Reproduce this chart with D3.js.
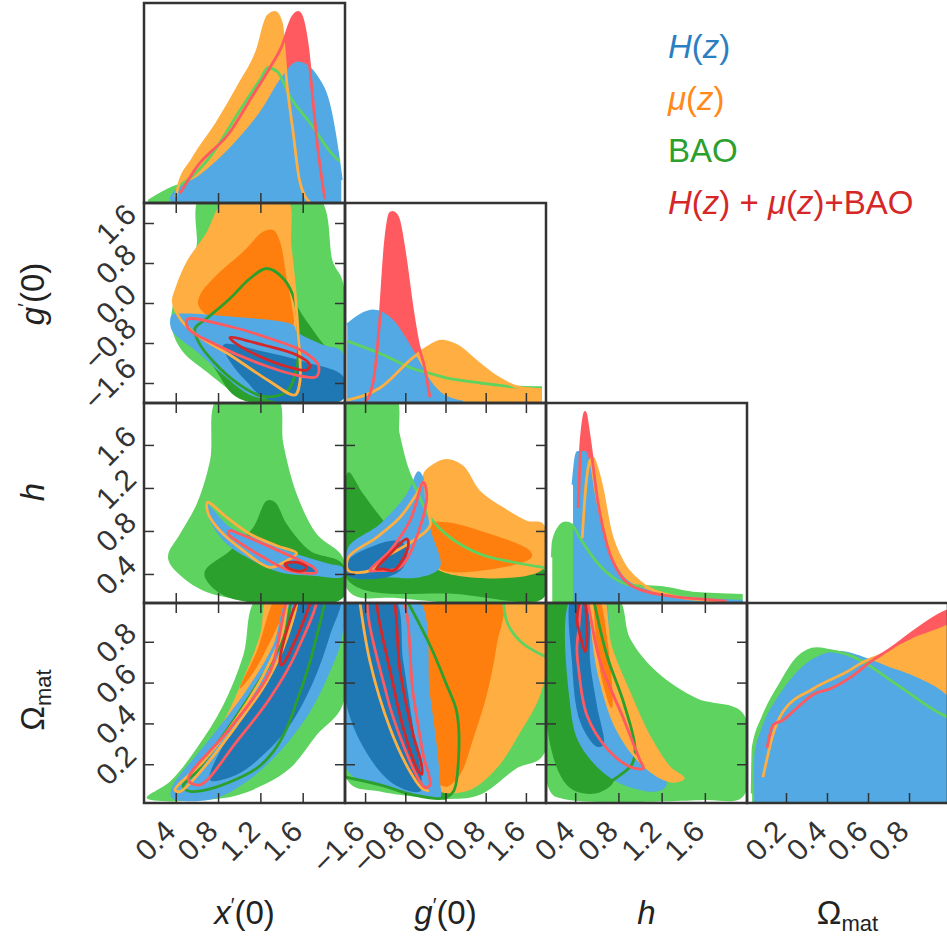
<!DOCTYPE html>
<html>
<head>
<meta charset="utf-8">
<title>Corner plot</title>
<script src="https://cdn.jsdelivr.net/npm/d3@7"></script>
<style>
  body { margin: 0; background: #fff; }
  svg { display: block; font-family: "Liberation Sans", Arial, sans-serif; }
</style>
</head>
<body>
<div id="chart"></div>
<script>
// ---- parameters (x'(0), g'(0), h, Omega_mat) ----
var paramDomains = [[0.1, 2.0], [-2, 2], [0.13, 1.99], [0.01, 0.99]];
var paramTicks = [[0.4, 0.8, 1.2, 1.6], [-1.6, -0.8, 0.0, 0.8, 1.6], [0.4, 0.8, 1.2, 1.6], [0.2, 0.4, 0.6, 0.8]];
var seriesNames = ["H(z)", "μ(z)", "BAO", "H(z)+μ(z)+BAO"];

// ---- 1D marginals [value, relative density] ----
var margXpHz  = [[0.35,0.02],[0.37,0.04],[0.63,0.14],[0.91,0.28],[1.225,0.49],[1.414,0.66],[1.556,0.735],[1.735,0.66],[1.858,0.49],[1.953,0.17],[1.965,0.12]];
var margXpMu  = [[0.40,0.03],[0.42,0.08],[0.56,0.23],[0.79,0.42],[1.01,0.63],[1.17,0.80],[1.27,0.98],[1.34,1.0],[1.40,0.94],[1.45,0.63],[1.51,0.37],[1.57,0.12],[1.67,0.0]];
var margXpBao = [[0.14,0.01],[0.37,0.08],[0.44,0.095],[0.72,0.24],[1.01,0.49],[1.20,0.65],[1.27,0.71],[1.36,0.69],[1.48,0.56],[1.67,0.42],[1.89,0.25],[1.95,0.22]];
var margXpAll = [[0.44,0.05],[0.60,0.19],[0.91,0.37],[1.10,0.54],[1.29,0.71],[1.40,0.82],[1.51,0.98],[1.56,1.0],[1.60,0.96],[1.65,0.80],[1.69,0.58],[1.74,0.30],[1.81,0.02]];

var margGpHz  = [[-1.955,0.41],[-1.70,0.46],[-1.44,0.483],[-1.04,0.425],[-0.77,0.32],[-0.51,0.20],[-0.31,0.11],[-0.05,0.04],[0.35,0.005]];
var margGpMu  = [[-1.955,0.015],[-1.30,0.08],[-0.64,0.24],[-0.37,0.29],[-0.08,0.325],[0.23,0.30],[0.63,0.215],[1.03,0.135],[1.42,0.085],[1.92,0.07]];
var margGpBao = [[-1.955,0.325],[-1.30,0.26],[-0.64,0.18],[-0.37,0.16],[0.04,0.13],[0.70,0.105],[1.35,0.085],[1.92,0.08]];
var margGpAll = [[-1.60,0.005],[-1.44,0.11],[-1.30,0.46],[-1.20,0.83],[-1.10,0.995],[-1.05,1.0],[-0.945,0.97],[-0.81,0.78],[-0.67,0.51],[-0.55,0.32],[-0.41,0.18],[-0.31,0.03]];

var margHHz  = [[0.38,0.62],[0.42,0.79],[0.49,0.79],[0.52,0.74],[0.566,0.58],[0.63,0.41],[0.72,0.25],[0.84,0.135],[1.03,0.07],[1.37,0.03],[1.95,0.01]];
var margHMu  = [[0.465,0.34],[0.50,0.62],[0.54,0.75],[0.566,0.76],[0.60,0.71],[0.65,0.60],[0.72,0.39],[0.84,0.215],[1.0,0.11],[1.28,0.04],[1.58,0.016],[1.75,0.005]];
var margHBao = [[0.188,0.24],[0.197,0.32],[0.243,0.39],[0.31,0.42],[0.37,0.41],[0.446,0.34],[0.60,0.215],[0.75,0.135],[0.91,0.094],[1.21,0.08],[1.52,0.05],[1.95,0.04]];
var margHAll = [[0.428,0.50],[0.446,0.77],[0.474,0.95],[0.49,1.0],[0.52,0.91],[0.557,0.76],[0.60,0.57],[0.695,0.305],[0.815,0.15],[1.0,0.07],[1.37,0.03],[1.58,0.02],[1.8,0.01]];

var margOmHz  = [[0.045,0.10],[0.05,0.24],[0.088,0.39],[0.17,0.56],[0.255,0.68],[0.35,0.76],[0.465,0.79],[0.577,0.76],[0.695,0.71],[0.82,0.66],[0.97,0.57],[0.99,0.55]];
var margOmMu  = [[0.088,0.135],[0.137,0.36],[0.186,0.48],[0.333,0.60],[0.50,0.69],[0.577,0.74],[0.695,0.79],[0.822,0.86],[0.968,0.92],[0.99,0.93]];
var margOmBao = [[0.035,0.05],[0.04,0.29],[0.088,0.45],[0.17,0.62],[0.255,0.76],[0.35,0.81],[0.416,0.80],[0.50,0.78],[0.577,0.74],[0.743,0.62],[0.97,0.46],[0.99,0.45]];
var margOmAll = [[0.108,0.29],[0.137,0.41],[0.186,0.435],[0.254,0.50],[0.333,0.57],[0.416,0.60],[0.528,0.67],[0.61,0.74],[0.71,0.81],[0.822,0.90],[0.968,1.0],[0.99,1.01]];

// ---- 2D contours [x, y] ----
// x'(0) vs g'(0)
var xg_bao95 = [[0.64,2.16],[0.598,1.16],[0.563,0.82],[0.44,0.30],[0.374,-0.04],[0.362,-0.50],[0.469,-0.98],[0.695,-1.38],[0.884,-1.70],[1.036,-1.92],[1.98,-1.92],[1.98,0.42],[1.886,0.82],[1.735,2.16]];
var xg_bao68 = [[0.613,-0.64],[0.787,-1.37],[1.007,-1.92],[1.98,-1.92],[1.98,-1.37],[1.73,-0.64],[1.543,-0.04],[1.449,0.56],[1.29,0.69],[1.007,0.29],[0.693,-0.24]];
var xg_mu95  = [[0.897,2.1],[1.433,2.1],[1.48,1.16],[1.527,0.23],[1.558,-0.64],[1.574,-1.57],[1.527,-1.84],[1.29,-1.57],[0.913,-1.04],[0.598,-0.64],[0.44,-0.31],[0.377,0.03],[0.409,0.29],[0.519,0.83],[0.693,1.36]];
var xg_mu68  = [[0.629,0.16],[0.787,0.56],[1.039,1.03],[1.228,1.43],[1.322,1.46],[1.385,1.23],[1.449,0.49],[1.496,-0.04],[1.511,-0.44],[1.449,-0.51],[0.913,-0.37],[0.693,-0.24],[0.613,-0.04]];
var xg_hz95  = [[0.456,-0.21],[0.913,-0.27],[1.511,-0.44],[1.543,-0.57],[1.795,-0.84],[1.969,-0.97],[1.978,-1.92],[1.29,-1.92],[1.102,-1.84],[0.85,-1.44],[0.598,-0.97],[0.362,-0.54],[0.362,-0.24]];
var xg_hz68  = [[0.85,-0.84],[1.228,-0.97],[1.606,-1.17],[1.984,-1.47],[1.984,-1.92],[1.26,-1.92],[1.07,-1.57],[0.913,-1.17]];
var xg_baoLine = [[1.26,0.69],[1.417,0.49],[1.527,0.03],[1.558,-0.64],[1.543,-1.31],[1.449,-1.77],[1.228,-1.87],[1.007,-1.64],[0.755,-1.17],[0.613,-0.77],[0.582,-0.51],[0.693,-0.31],[0.913,0.09],[1.102,0.49]];
var xg_all95 = [[0.509,-0.33],[0.913,-0.47],[1.29,-0.71],[1.606,-0.97],[1.748,-1.24],[1.732,-1.47],[1.606,-1.47],[1.228,-1.24],[0.787,-0.84],[0.519,-0.51]];
var xg_all68 = [[0.913,-0.69],[1.228,-0.84],[1.543,-1.04],[1.669,-1.24],[1.638,-1.34],[1.449,-1.27],[1.165,-1.04],[0.944,-0.77]];

// x'(0) vs h
var xh_bao95 = [[0.802,2.05],[1.354,2.05],[1.417,1.61],[1.543,1.144],[1.732,0.772],[1.978,0.555],[1.978,0.177],[0.913,0.177],[0.598,0.276],[0.346,0.493],[0.330,0.586],[0.44,0.772],[0.598,1.051],[0.724,1.454]];
var xh_bao68 = [[1.26,1.082],[1.338,1.067],[1.449,0.865],[1.669,0.617],[1.978,0.493],[1.978,0.177],[0.913,0.177],[0.693,0.338],[0.676,0.431],[0.913,0.617],[1.133,0.834]];
var xh_hz95  = [[0.693,1.051],[0.913,0.834],[1.228,0.710],[1.543,0.586],[1.858,0.493],[1.978,0.462],[1.978,0.375],[1.70,0.384],[1.385,0.416],[1.07,0.555],[0.85,0.710],[0.708,0.927]];
var xh_hz68  = [[1.417,0.509],[1.606,0.509],[1.732,0.431],[1.669,0.400],[1.449,0.446]];
var xh_muLine = [[0.699,1.067],[0.882,0.927],[1.102,0.772],[1.354,0.663],[1.543,0.593],[1.449,0.524],[1.29,0.462],[1.039,0.617],[0.818,0.803],[0.708,0.958]];
var xh_all95 = [[0.913,0.803],[1.007,0.772],[1.228,0.679],[1.543,0.540],[1.70,0.462],[1.732,0.416],[1.48,0.431],[1.228,0.555],[0.976,0.710],[0.897,0.772]];
var xh_all68 = [[1.433,0.493],[1.543,0.509],[1.638,0.462],[1.606,0.431],[1.48,0.446]];

// g'(0) vs h
var gh_bao95 = [[-1.934,2.05],[-1.005,2.05],[-0.905,1.609],[-0.573,1.207],[-0.109,0.958],[0.687,0.710],[1.946,0.555],[1.946,0.177],[-0.971,0.177],[-1.934,0.245]];
var gh_bao68 = [[-1.934,1.346],[-1.636,1.144],[-1.104,0.834],[-0.442,0.617],[0.354,0.493],[1.946,0.447],[1.946,0.177],[0.223,0.214],[-1.934,0.338]];
var gh_mu95  = [[-0.442,1.33],[-0.243,1.423],[0.024,1.47],[0.354,1.407],[0.687,1.175],[1.15,1.02],[1.616,0.896],[1.946,0.865],[1.946,0.447],[-0.175,0.447],[-0.308,0.679],[-0.408,1.051]];
var gh_mu68  = [[-0.308,0.865],[0.024,0.881],[0.687,0.803],[1.682,0.617],[1.716,0.555],[1.15,0.462],[-0.109,0.447],[-0.243,0.648]];
var gh_hz95  = [[-1.934,0.648],[-1.303,0.865],[-0.772,1.144],[-0.541,1.355],[-0.442,1.30],[-0.308,0.834],[-0.109,0.462],[-0.507,0.369],[-1.17,0.369],[-1.934,0.384]];
var gh_hz68  = [[-1.934,0.524],[-1.502,0.648],[-0.971,0.71],[-0.772,0.648],[-0.839,0.462],[-1.17,0.369],[-1.934,0.384]];
var gh_baoLine = [[-0.971,1.772],[-0.772,1.393],[-0.573,1.175],[-0.308,0.927],[0.09,0.741],[0.687,0.586],[1.35,0.509],[1.946,0.462]];
var gh_muLine = [[-1.934,0.555],[-1.369,0.741],[-0.905,0.927],[-0.573,1.144],[-0.422,1.262],[-0.374,1.051],[-0.308,0.849],[-0.641,0.710],[-1.303,0.524],[-1.502,0.431],[-1.934,0.431]];
var gh_all95 = [[-1.502,0.431],[-1.104,0.617],[-0.706,0.896],[-0.442,1.253],[-0.374,1.144],[-0.507,0.834],[-0.905,0.462],[-1.369,0.431]];
var gh_all68 = [[-1.369,0.447],[-1.104,0.586],[-0.772,0.726],[-0.74,0.663],[-0.905,0.493],[-1.039,0.431],[-1.237,0.447]];

// x'(0) vs Omega_mat
var xo_bao95 = [[0.126,0.034],[0.346,0.115],[0.598,0.278],[0.85,0.49],[1.039,0.734],[1.18,1.02],[1.984,1.02],[1.978,0.49],[1.732,0.343],[1.48,0.18],[1.165,0.083],[0.85,0.034]];
var xo_mu95  = [[0.377,0.083],[0.598,0.213],[0.85,0.408],[1.039,0.621],[1.196,0.832],[1.27,1.02],[1.449,1.02],[1.354,0.816],[1.196,0.604],[1.007,0.425],[0.755,0.245],[0.504,0.115]];
var xo_mu68  = [[1.354,1.02],[1.449,1.02],[1.228,0.734],[1.07,0.604],[1.007,0.572],[1.165,0.751]];
var xo_hz95  = [[0.362,0.083],[0.362,0.034],[0.755,0.030],[1.07,0.115],[1.385,0.262],[1.669,0.457],[1.858,0.653],[1.969,0.816],[1.969,1.02],[1.48,1.02],[1.322,0.783],[1.102,0.588],[0.85,0.408],[0.598,0.246],[0.44,0.148]];
var xo_hz68  = [[0.724,0.123],[0.976,0.148],[1.228,0.246],[1.48,0.392],[1.70,0.604],[1.858,0.832],[1.953,1.02],[1.606,1.02],[1.449,0.816],[1.26,0.621],[1.039,0.441],[0.85,0.294]];
var xo_baoLine = [[1.511,1.1],[1.417,0.816],[1.165,0.588],[0.85,0.343],[0.598,0.164],[0.471,0.095],[0.519,0.069],[0.724,0.079],[1.165,0.18],[1.322,0.262],[1.449,0.376],[1.543,0.506],[1.669,0.702],[1.858,1.1]];
var xo_muLine = [[0.393,0.074],[0.66,0.213],[0.976,0.425],[1.228,0.637],[1.401,0.832],[1.48,1.02],[1.543,1.02],[1.449,0.816],[1.26,0.604],[0.976,0.392],[0.66,0.18],[0.44,0.066]];
var xo_all95 = [[0.519,0.123],[0.913,0.376],[1.29,0.653],[1.511,1.05],[1.732,1.05],[1.543,0.751],[1.29,0.523],[0.976,0.311],[0.629,0.099]];
var xo_all68 = [[1.385,0.702],[1.606,1.05],[1.685,1.05],[1.48,0.751],[1.401,0.686]];

// g'(0) vs Omega_mat
var go_bao95 = [[-1.934,1.02],[1.946,1.02],[1.946,0.245],[1.417,0.18],[0.687,0.05],[0.09,0.03],[-1.303,0.066],[-1.934,0.115]];
var go_bao68 = [[-1.95,0.27],[-1.3,0.15],[-0.3,0.05],[0.03,0.03],[0.0,0.3],[-0.9,0.5],[-1.95,0.6]];
var go_mu95  = [[-0.573,1.02],[1.946,1.02],[1.946,0.588],[1.417,0.327],[1.019,0.18],[0.488,0.074],[-0.109,0.066],[-0.175,0.115],[-0.374,0.457],[-0.507,0.783]];
var go_mu68  = [[-0.573,1.02],[1.119,1.02],[1.019,0.783],[0.82,0.539],[0.554,0.327],[0.289,0.148],[0.024,0.09],[-0.175,0.115],[-0.374,0.457],[-0.507,0.783]];
var go_hz95  = [[-1.934,1.02],[-0.573,1.02],[-0.308,0.539],[-0.175,0.294],[-0.109,0.115],[-0.109,0.034],[-0.641,0.05],[-1.303,0.099],[-1.934,0.164]];
var go_hz68  = [[-1.934,1.02],[-1.039,1.02],[-0.84,0.702],[-0.641,0.376],[-0.474,0.115],[-0.507,0.066],[-1.104,0.115],[-1.934,0.457]];
var go_baoLine = [[-0.872,1.05],[-0.308,0.783],[0.024,0.588],[0.223,0.457],[0.256,0.213],[0.156,0.066],[-0.043,0.034],[-0.641,0.05],[-1.303,0.099],[-2.05,0.14]];
var go_baoLine2 = [[1.15,1.05],[1.22,0.9],[1.5,0.8],[1.96,0.73]];
var go_muLine = [[-1.735,1.05],[-1.502,0.702],[-1.104,0.376],[-0.706,0.164],[-0.474,0.083],[-0.35,0.07]];
var go_all95 = [[-1.502,1.05],[-1.17,0.539],[-0.84,0.294],[-0.507,0.115],[-0.40,0.085],[-0.308,0.099],[-0.442,0.245],[-0.641,0.539],[-0.939,1.05]];
var go_all68 = [[-1.337,1.05],[-1.05,0.6],[-0.75,0.3],[-0.55,0.17],[-0.47,0.15],[-0.48,0.2],[-0.65,0.35],[-0.9,0.65],[-1.104,1.05]];

// h vs Omega_mat
var ho_bao95 = [[0.169,1.02],[0.785,1.02],[0.908,0.816],[1.154,0.653],[1.524,0.523],[1.954,0.449],[1.954,0.042],[1.585,0.025],[0.292,0.03],[0.169,0.066]];
var ho_bao68 = [[0.169,1.02],[0.40,1.02],[0.384,0.702],[0.40,0.457],[0.477,0.294],[0.661,0.18],[0.754,0.115],[0.60,0.058],[0.354,0.083],[0.169,0.294]];
var ho_hz95  = [[0.37,1.02],[0.661,1.02],[0.723,0.783],[0.846,0.539],[1.031,0.294],[1.247,0.099],[1.154,0.066],[0.754,0.123],[0.446,0.294],[0.354,0.49]];
var ho_hz68  = [[0.37,1.02],[0.508,1.02],[0.538,0.702],[0.60,0.49],[0.661,0.294],[0.60,0.286],[0.446,0.408],[0.37,0.702]];
var ho_mu95  = [[0.554,1.02],[0.647,1.02],[0.723,0.783],[0.908,0.539],[1.093,0.327],[1.277,0.18],[1.40,0.131],[1.277,0.118],[1.031,0.197],[0.785,0.376],[0.631,0.621],[0.569,0.816]];
var ho_mu68  = [[0.585,1.02],[0.615,1.02],[0.723,0.702],[0.739,0.474],[0.677,0.539],[0.60,0.783]];
var ho_baoLine = [[0.554,1.05],[0.693,0.734],[0.846,0.506],[0.954,0.278],[0.923,0.197],[0.754,0.123],[0.62,0.07]];
var ho_all95 = [[0.48,1.05],[0.631,0.702],[0.846,0.425],[0.999,0.22],[1.031,0.18],[0.908,0.188],[0.693,0.278],[0.508,0.441],[0.431,0.669],[0.416,0.767],[0.43,0.85]];
var ho_all68 = [[0.416,0.914],[0.477,1.05],[0.508,0.80],[0.492,0.751],[0.446,0.832]];

// ---- colours ----
var blueL = "#52a9e3", blueD = "#1f77b4";
var orangeL = "#ffae42", orangeD = "#ff7f0e";
var greenL = "#5ed35f", greenD = "#2ca02c";
var redL = "#ff5a5f", redD = "#d62728";
var legendColors = ["#2b7fc1", "#ff8a1c", "#2ca02c", "#d62728"];

// ---- layout ----
var width = 947, height = 942;
var left0 = 144, top0 = 3, cellW = 201, cellH = 200;
var labelSize = 30, capProj = 0.72 * labelSize * Math.SQRT1_2;

var svg = d3.select("#chart").append("svg")
    .attr("width", width)
    .attr("height", height);

function xScale(i) {
    return d3.scaleLinear().domain(paramDomains[i]).range([left0 + i * cellW, left0 + (i + 1) * cellW]);
}
function yScale(j) {
    return d3.scaleLinear().domain(paramDomains[j]).range([top0 + (j + 1) * cellH, top0 + j * cellH]);
}
function yDiag(j) {
    return d3.scaleLinear().domain([0, 1.05]).range([top0 + (j + 1) * cellH, top0 + j * cellH]);
}

var defs = svg.append("defs");
function addClip(c, r) {
    var id = "clip" + c + r;
    defs.append("clipPath").attr("id", id).append("rect")
        .attr("x", left0 + c * cellW).attr("y", top0 + r * cellH)
        .attr("width", cellW).attr("height", cellH);
    return "url(#" + id + ")";
}

var fmt = d3.format(".1f");
var tickLen = 10;

function styleAxis(g) {
    g.select(".domain").remove();
    g.selectAll(".tick line").attr("stroke", "#333").attr("stroke-width", 1.5);
}

// rotated tick labels: bottom ones hang below the axis, left ones are centred on the tick
function bottomLabels(g) {
    g.selectAll(".tick text")
        .attr("y", null).attr("dy", null)
        .attr("text-anchor", "end")
        .attr("font-size", labelSize).attr("font-family", "Liberation Sans, Arial, sans-serif")
        .attr("fill", "#333")
        .attr("transform", "translate(1," + (15 + capProj) + ") rotate(-45)");
}
function leftLabels(g) {
    g.selectAll(".tick text")
        .attr("x", null).attr("dy", null)
        .attr("text-anchor", "end")
        .attr("font-size", labelSize).attr("font-family", "Liberation Sans, Arial, sans-serif")
        .attr("fill", "#333")
        .attr("transform", function() {
            var proj = this.getComputedTextLength() * Math.SQRT1_2;
            return "translate(-6," + (-(proj - capProj) / 2) + ") rotate(-45)";
        });
}

// ---- diagonal panels ----
var marginals = [
    [margXpBao, margXpAll, margXpMu, margXpHz],
    [margGpBao, margGpAll, margGpMu, margGpHz],
    [margHBao, margHAll, margHMu, margHHz],
    [margOmBao, margOmAll, margOmMu, margOmHz]
];
var diagFill = [greenL, redL, orangeL, blueL];
var lineOrder = [3, 0, 2, 1];

marginals.forEach(function(curves, i) {
    var x = xScale(i), y = yDiag(i);
    var g = svg.append("g").attr("clip-path", addClip(i, i));
    var area = d3.area().x(function(d) { return x(d[0]); })
        .y0(y(0)).y1(function(d) { return y(d[1]); })
        .curve(d3.curveMonotoneX);
    var line = d3.line().x(function(d) { return x(d[0]); })
        .y(function(d) { return y(d[1]); })
        .curve(d3.curveMonotoneX);
    curves.forEach(function(c, k) {
        g.append("path").attr("d", area(c)).attr("fill", diagFill[k]);
    });
    lineOrder.forEach(function(k) {
        g.append("path").attr("d", line(curves[k])).attr("fill", "none")
            .attr("stroke", diagFill[k]).attr("stroke-width", 2.8);
    });
    // bottom ticks
    var ax = svg.append("g").attr("transform", "translate(0," + (top0 + (i + 1) * cellH) + ")")
        .call(d3.axisBottom(x).tickValues(paramTicks[i]).tickSize(-tickLen).tickFormat(i == 3 ? fmt : ""))
        .call(styleAxis);
    if (i == 3) ax.call(bottomLabels);
});

// ---- 2D panels ----
var panels2d = [
    {c: 0, r: 1, layers: [[xg_bao95, "fill", greenL], [xg_bao68, "fill", greenD], [xg_mu95, "fill", orangeL], [xg_mu68, "fill", orangeD],
        [xg_hz95, "fill", blueL], [xg_hz68, "fill", blueD], [xg_baoLine, "line", greenD], [xg_mu95, "line", orangeL],
        [xg_all95, "line", redL], [xg_all68, "line", redD]]},
    {c: 0, r: 2, layers: [[xh_bao95, "fill", greenL], [xh_bao68, "fill", greenD], [xh_hz95, "fill", blueL], [xh_hz68, "fill", blueD],
        [xh_muLine, "line", orangeL], [xh_all95, "line", redL], [xh_all68, "line", redD]]},
    {c: 1, r: 2, layers: [[gh_bao95, "fill", greenL], [gh_bao68, "fill", greenD], [gh_mu95, "fill", orangeL], [gh_mu68, "fill", orangeD],
        [gh_hz95, "fill", blueL], [gh_hz68, "fill", blueD], [gh_baoLine, "open", greenL], [gh_muLine, "line", orangeL],
        [gh_all95, "line", redL], [gh_all68, "line", redD]]},
    {c: 0, r: 3, layers: [[xo_bao95, "fill", greenL], [xo_mu95, "fill", orangeL], [xo_mu68, "fill", orangeD],
        [xo_hz95, "fill", blueL], [xo_hz68, "fill", blueD], [xo_baoLine, "open", greenD], [xo_muLine, "line", orangeL],
        [xo_all95, "line", redL], [xo_all68, "line", redD]]},
    {c: 1, r: 3, layers: [[go_bao95, "fill", greenL], [go_bao68, "fill", greenD], [go_mu95, "fill", orangeL], [go_mu68, "fill", orangeD],
        [go_hz95, "fill", blueL], [go_hz68, "fill", blueD], [go_baoLine, "open", greenD], [go_baoLine2, "open", greenL],
        [go_muLine, "open", orangeL], [go_all95, "line", redL], [go_all68, "line", redD]]},
    {c: 2, r: 3, layers: [[ho_bao95, "fill", greenL], [ho_bao68, "fill", greenD], [ho_hz95, "fill", blueL], [ho_hz68, "fill", blueD],
        [ho_mu95, "fill", orangeL], [ho_mu68, "fill", orangeD], [ho_baoLine, "open", greenD], [ho_mu95, "line", orangeL],
        [ho_all95, "line", redL], [ho_all68, "line", redD]]}
];

panels2d.forEach(function(p) {
    var x = xScale(p.c), y = yScale(p.r);
    var g = svg.append("g").attr("clip-path", addClip(p.c, p.r));
    var closed = d3.line().x(function(d) { return x(d[0]); }).y(function(d) { return y(d[1]); })
        .curve(d3.curveCatmullRomClosed.alpha(0.5));
    var open = d3.line().x(function(d) { return x(d[0]); }).y(function(d) { return y(d[1]); })
        .curve(d3.curveCatmullRom.alpha(0.5));
    p.layers.forEach(function(l) {
        if (l[1] == "fill") {
            g.append("path").attr("d", closed(l[0])).attr("fill", l[2]);
        } else {
            g.append("path").attr("d", (l[1] == "open" ? open : closed)(l[0]))
                .attr("fill", "none").attr("stroke", l[2]).attr("stroke-width", 2.8)
                .attr("stroke-linejoin", "round").attr("stroke-linecap", "round");
        }
    });

    var x0 = left0 + p.c * cellW, y0 = top0 + p.r * cellH;
    // ticks on all four sides, pointing inwards
    svg.append("g").attr("transform", "translate(0," + y0 + ")")
        .call(d3.axisTop(x).tickValues(paramTicks[p.c]).tickSize(-tickLen).tickFormat(""))
        .call(styleAxis);
    svg.append("g").attr("transform", "translate(" + (x0 + cellW) + ",0)")
        .call(d3.axisRight(y).tickValues(paramTicks[p.r]).tickSize(-tickLen).tickFormat(""))
        .call(styleAxis);

    var bottom = svg.append("g").attr("transform", "translate(0," + (y0 + cellH) + ")")
        .call(d3.axisBottom(x).tickValues(paramTicks[p.c]).tickSize(-tickLen)
            .tickFormat(p.r == 3 ? fmt : ""))
        .call(styleAxis);
    var leftAx = svg.append("g").attr("transform", "translate(" + x0 + ",0)")
        .call(d3.axisLeft(y).tickValues(paramTicks[p.r]).tickSize(-tickLen)
            .tickFormat(p.c == 0 ? fmt : ""))
        .call(styleAxis);

    if (p.r == 3) bottom.call(bottomLabels);
    if (p.c == 0) leftAx.call(leftLabels);
});

// ---- frames ----
var frames = svg.append("g");
for (var r = 0; r < 4; r++) {
    for (var c = 0; c <= r; c++) {
        frames.append("rect")
            .attr("x", left0 + c * cellW).attr("y", top0 + r * cellH)
            .attr("width", cellW).attr("height", cellH)
            .attr("fill", "none").attr("stroke", "#333").attr("stroke-width", 2.5);
    }
}

// ---- axis titles ----
function title(sel, parts) {
    parts.forEach(function(p) {
        var t = sel.append("tspan").text(p[0]);
        if (p[1]) t.attr("font-style", "italic");
        if (p[2]) t.attr("font-size", p[2]);
        if (p[3]) t.attr("dy", p[3]);
    });
}
var titleParts = [
    [["x", true], ["′", false, 20, -12], ["(0)", false, 33, 12]],
    [["g", true], ["′", false, 20, -12], ["(0)", false, 33, 12]],
    [["h", true]],
    [["Ω", false], ["mat", false, 22, 7]]
];
var leftTitleY = [0, 294, 492, 700];
titleParts.forEach(function(parts, i) {
    var t = svg.append("text")
        .attr("x", left0 + (i + 0.5) * cellW).attr("y", 924)
        .attr("text-anchor", "middle").attr("font-size", 33).attr("fill", "#222");
    title(t, parts);
    if (i > 0) {
        var tl = svg.append("text")
            .attr("transform", "translate(44," + leftTitleY[i] + ") rotate(-90)")
            .attr("text-anchor", "middle").attr("font-size", 33).attr("fill", "#222");
        title(tl, parts);
    }
});

// ---- legend ----
var legendParts = [
    [["H", true], ["(", false], ["z", true], [")", false]],
    [["μ", true], ["(", false], ["z", true], [")", false]],
    [["BAO", false]],
    [["H", true], ["(", false], ["z", true], [")", false], [" + ", false], ["μ", true], ["(", false], ["z", true], [")+BAO", false]]
];
legendParts.forEach(function(parts, i) {
    var t = svg.append("text")
        .attr("x", 668).attr("y", 58 + i * 52)
        .attr("font-size", 33).attr("fill", legendColors[i]);
    title(t, parts);
});
</script>
</body>
</html>
